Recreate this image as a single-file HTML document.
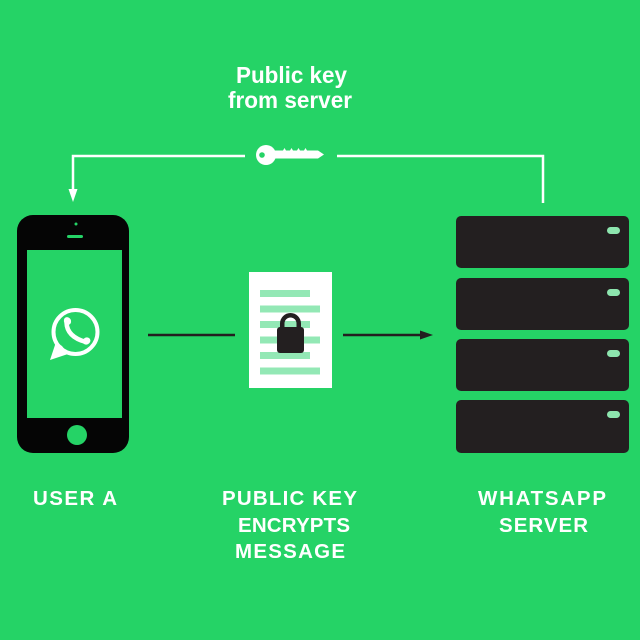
<!DOCTYPE html>
<html>
<head>
<meta charset="utf-8">
<style>
  html,body{margin:0;padding:0;background:#25d366;}
  svg{display:block;}
  text{font-family:"Liberation Sans",Arial,sans-serif;font-weight:bold;fill:#ffffff;}
</style>
</head>
<body>
<svg width="640" height="640" viewBox="0 0 640 640" xmlns="http://www.w3.org/2000/svg">
  <rect x="0" y="0" width="640" height="640" fill="#25d366"/>

  <!-- Top caption -->
  <text x="236" y="83" font-size="23" textLength="111" lengthAdjust="spacingAndGlyphs">Public key</text>
  <text x="228" y="108" font-size="23" textLength="124" lengthAdjust="spacingAndGlyphs">from server</text>

  <!-- Top connector -->
  <polyline points="73,191 73,156 245,156" fill="none" stroke="#ffffff" stroke-width="2.5"/>
  <polygon points="68.5,189 77.5,189 73,202" fill="#ffffff"/>
  <polyline points="337,156 543,156 543,203" fill="none" stroke="#ffffff" stroke-width="2.5"/>

  <!-- Key -->
  <circle cx="266" cy="155" r="10" fill="#ffffff"/>
  <circle cx="262" cy="155" r="2.8" fill="#25d366"/>
  <path d="M273 150.5 L283 150.5 L284.5 148 L286 150.5 L290 150.5 L291.5 148 L293 150.5 L297 150.5 L298.5 148 L300 150.5 L304 150.5 L305.5 148 L307 150.5 L318 150.5 L324 154.5 L318 158.5 L273 158.5 Z" fill="#ffffff"/>

  <!-- Phone -->
  <rect x="17" y="215" width="112" height="238" rx="16" ry="16" fill="#050505"/>
  <rect x="27" y="250" width="95" height="168" fill="#25d366"/>
  <rect x="67" y="235" width="16" height="3" rx="1.5" fill="#25d366"/>
  <circle cx="76" cy="224" r="1.5" fill="#25d366"/>
  <circle cx="77" cy="435" r="10" fill="#25d366"/>

  <!-- WhatsApp logo -->
  <circle cx="75.5" cy="332" r="22" fill="none" stroke="#ffffff" stroke-width="4"/>
  <polygon points="56,342 50,360 68,354 62,346" fill="#ffffff"/>
  <path d="M66.5 322.5 Q67 337 86 342" fill="none" stroke="#ffffff" stroke-width="4.5" stroke-linecap="round"/>
  <ellipse cx="67.5" cy="321" rx="3.5" ry="4" fill="#ffffff" transform="rotate(-30 67.5 321)"/>
  <ellipse cx="86.5" cy="341" rx="4" ry="3.5" fill="#ffffff" transform="rotate(-30 86.5 341)"/>

  <!-- Middle connectors -->
  <line x1="148" y1="335" x2="235" y2="335" stroke="#231f20" stroke-width="2.5"/>
  <line x1="343" y1="335" x2="424" y2="335" stroke="#231f20" stroke-width="2.5"/>
  <polygon points="420,330.5 433,335 420,339.5" fill="#231f20"/>

  <!-- Document -->
  <rect x="249" y="272" width="83" height="116" fill="#ffffff"/>
  <g fill="#93e8b5">
    <rect x="260" y="290" width="50" height="7"/>
    <rect x="260" y="305.5" width="60" height="7"/>
    <rect x="260" y="321" width="50" height="7"/>
    <rect x="260" y="336.5" width="60" height="7"/>
    <rect x="260" y="352" width="50" height="7"/>
    <rect x="260" y="367.5" width="60" height="7"/>
  </g>
  <!-- Lock -->
  <path d="M282.25 329 V323.5 A8.25 8.25 0 0 1 298.75 323.5 V329" fill="none" stroke="#231f20" stroke-width="4.5"/>
  <rect x="277" y="327" width="27" height="26" rx="3" fill="#231f20"/>

  <!-- Server -->
  <g fill="#231f20">
    <rect x="456" y="216" width="173" height="52" rx="5"/>
    <rect x="456" y="278" width="173" height="52" rx="5"/>
    <rect x="456" y="339" width="173" height="52" rx="5"/>
    <rect x="456" y="400" width="173" height="53" rx="5"/>
  </g>
  <g fill="#8de5ae">
    <rect x="607" y="227" width="13" height="7" rx="3.5"/>
    <rect x="607" y="289" width="13" height="7" rx="3.5"/>
    <rect x="607" y="350" width="13" height="7" rx="3.5"/>
    <rect x="607" y="411" width="13" height="7" rx="3.5"/>
  </g>

  <!-- Bottom labels -->
  <text x="33" y="505" font-size="20.5" textLength="84">USER A</text>
  <text x="222" y="505" font-size="20.5" textLength="135">PUBLIC KEY</text>
  <text x="238" y="532" font-size="20.5" textLength="112">ENCRYPTS</text>
  <text x="235" y="558" font-size="20.5" textLength="110">MESSAGE</text>
  <text x="478" y="505" font-size="20.5" textLength="128">WHATSAPP</text>
  <text x="499" y="532" font-size="20.5" textLength="89">SERVER</text>
</svg>
</body>
</html>
